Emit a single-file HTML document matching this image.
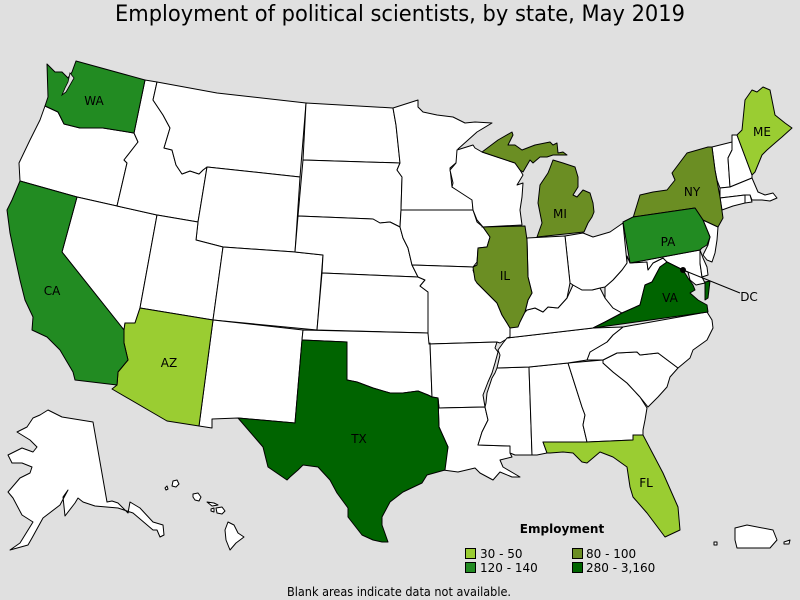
<!DOCTYPE html>
<html>
<head>
<meta charset="utf-8">
<style>
html,body{margin:0;padding:0;background:#e0e0e0;}
svg{display:block;}
text{font-family:"DejaVu Sans","Liberation Sans",sans-serif;fill:#000;}
</style>
</head>
<body>
<svg width="800" height="600" viewBox="0 0 800 600" xmlns="http://www.w3.org/2000/svg">
<rect x="0" y="0" width="800" height="600" fill="#e0e0e0"/>
<text x="400" y="21" font-size="22" text-anchor="middle" textLength="570" lengthAdjust="spacingAndGlyphs">Employment of political scientists, by state, May 2019</text>

<g stroke="#000" stroke-width="1" stroke-linejoin="round">
<!-- white states -->
<g fill="#ffffff">
<polygon points="45,106 58,112 64,124 80,128 103,128 134,133 138,142 124,160 127,163 117,206 77,197 20,181 19,163 30,140 40,120"/>
<polygon points="77,197 157,215 140,308 135,323 125,323 124,330 62,252"/>
<polygon points="145,80 157,82 153,100 163,115 170,128 164,148 172,150 176,165 182,174 190,171 199,174 203,170 207,167 198,222 157,215 117,206 127,163 124,160 138,142 134,133"/>
<polygon points="157,82 217,93 306,103 300,177 207,167 203,170 199,174 190,171 182,174 176,165 172,150 164,148 170,128 163,115 153,100"/>
<polygon points="207,167 300,177 295,252 223,247 196,240 198,222"/>
<polygon points="157,215 198,222 196,240 223,247 213,320 140,308"/>
<polygon points="223,247 295,252 323,255 317,330 213,320"/>
<polygon points="213,320 303,330 302,340 295,423 238,418 212,419 212,428 199,426"/>
<polygon points="306,103 393,108 396,125 400,163 303,160"/>
<polygon points="303,160 400,163 397,170 402,177 401,210 400,227 390,222 380,223 373,219 298,216"/>
<polygon points="298,216 373,219 380,223 390,222 400,227 403,238 408,248 412,265 418,277 322,273 323,255 295,252"/>
<polygon points="322,273 418,277 425,280 420,286 428,292 428,333 317,330"/>
<polygon points="303,330 428,333 430,343 432,397 428,395 418,391 403,393 390,393 373,388 357,382 347,380 347,342 302,340"/>
<polygon points="393,108 418,100 418,107 423,112 437,115 453,117 465,123 475,122 492,123 477,132 458,149 457,162 450,168 452,187 472,198 473,210 401,210 402,177 397,170 400,163 396,125"/>
<polygon points="401,210 473,210 477,222 483,227 490,237 487,247 478,248 477,262 473,267 412,265 408,248 403,238 400,227"/>
<polygon points="412,265 473,267 477,265 473,270 477,283 487,293 497,303 502,315 507,323 510,328 510,337 505,340 500,343 497,342 429,344 428,333 428,292 420,286 425,280 418,277"/>
<polygon points="429,344 497,342 495,348 498,352 495,363 492,373 488,382 483,395 485,407 439,408 438,398 432,397 430,343"/>
<polygon points="439,408 485,407 488,420 482,432 478,445 510,446 510,453 512,457 500,460 503,467 520,477 512,477 500,472 493,480 480,473 475,468 458,472 443,470 448,447 439,427 438,398"/>
<polygon points="497,368 529,367 532,455 515,455 510,453 510,446 478,445 482,432 488,420 485,407 486,403 487,393 492,378 495,373"/>
<polygon points="529,367 568,363 582,407 585,415 583,425 587,442 543,442 547,453 537,455 532,455"/>
<polygon points="568,363 603,360 603,363 613,372 627,383 640,397 647,408 645,420 643,430 643,435 633,435 633,440 587,442 583,425 585,415 582,407"/>
<polygon points="603,360 617,353 637,352 640,355 658,353 678,368 670,377 667,387 658,397 648,407 640,397 627,383 613,372 603,363"/>
<polygon points="623,327 707,312 712,320 713,328 707,340 693,350 690,358 678,368 658,353 640,355 637,352 617,353 603,360 587,360 590,352 607,342 613,335"/>
<polygon points="507,338 593,328 623,327 613,335 607,342 590,352 587,360 568,363 529,367 497,368 500,355 498,350 503,343"/>
<polygon points="510,328 527,310 535,308 543,312 548,307 558,308 567,298 573,285 582,290 592,290 600,288 605,298 613,308 622,313 605,322 593,328 507,338 510,337"/>
<polygon points="605,287 613,280 622,270 627,263 627,256 630,263 640,262 647,262 648,270 653,263 663,258 667,262 660,267 652,282 645,285 640,305 622,313 613,308 605,298"/>
<polygon points="565,236 583,233 593,237 610,232 623,223 627,263 622,270 613,280 605,287 600,288 592,290 582,290 573,285 570,283"/>
<polygon points="527,238 565,236 570,283 567,298 558,308 548,307 543,312 535,308 527,310 525,312 528,300 532,293 528,277 527,240"/>
<polygon points="457,150 473,145 475,148 482,152 497,157 515,163 520,170 523,175 517,185 523,183 522,197 520,210 522,225 483,227 477,220 473,210 472,200 452,187 453,183 450,170 456,163"/>
<polygon points="703,220 718,227 717,240 715,253 712,262 707,260 703,255 708,245 710,237"/>
<polygon points="630,263 700,250 700,263 702,277 705,283 696,285 690,280 688,272 683,270 667,262 663,258 653,263 648,270 647,262"/>
<polygon points="700,250 703,258 707,267 708,275 702,277 700,263"/>
<polygon points="712,147 732,142 732,150 728,158 730,187 720,188 717,180 715,170"/>
<polygon points="732,135 737,135 752,175 752,178 730,187 728,158 732,150"/>
<polygon points="720,188 730,187 752,178 755,185 758,192 765,195 773,193 777,198 770,201 762,200 752,200 750,195 745,195 720,198"/>
<polygon points="720,198 745,195 745,203 733,206 722,210"/>
<polygon points="745,195 750,195 752,202 745,203"/>
<!-- Alaska -->
<polygon points="48,410 62,417 93,422 107,502 112,501 118,503 128,513 130,502 140,508 153,522 163,525 164,535 160,537 157,530 153,530 133,513 118,508 95,506 83,502 78,498 75,503 65,516 63,497 68,490 60,505 43,518 32,538 28,545 10,550 20,543 33,522 22,515 13,498 8,492 20,478 30,473 32,467 22,463 12,463 8,455 22,448 33,452 37,447 30,440 17,432 27,427 33,418 40,415"/>
<!-- Hawaii -->
<polygon points="173,481 177,480 179,484 176,487 172,486"/>
<polygon points="165,488 167,486 168,489 166,490"/>
<polygon points="193,494 198,493 201,497 199,501 195,500 193,497"/>
<polygon points="207,502 214,503 218,505 212,506"/>
<polygon points="211,509 214,508 214,512 211,511"/>
<polygon points="216,508 222,507 225,511 222,514 217,513"/>
<polygon points="228,522 234,525 238,533 244,537 236,543 230,550 226,540 225,530"/>
<!-- Puerto Rico -->
<polygon points="735,528 747,525 773,530 777,540 770,548 737,548 735,540"/>
<polygon points="714,542 717,542 717,545 714,545"/>
<polygon points="784,542 790,540 789,544 784,544"/>
</g>

<!-- 30 - 50 -->
<g fill="#9acd32">
<polygon points="140,308 213,320 199,426 167,421 112,389 117,385 118,372 128,360 124,343 124,330 125,323 135,323"/>
<polygon points="752,90 757,92 763,87 770,90 775,115 785,123 792,128 782,137 775,143 767,150 762,155 755,172 752,175 737,135 742,130 745,100"/>
<polygon points="543,442 587,442 633,440 633,435 643,435 663,473 678,507 680,530 665,537 647,513 633,497 630,487 627,467 613,457 600,452 587,463 582,462 573,453 563,452 550,453 547,453"/>
</g>
<!-- 80 - 100 -->
<g fill="#6b8e23">
<polygon points="482,227 525,226 527,240 528,277 532,293 528,300 525,312 520,322 518,327 510,328 507,323 502,315 497,303 487,293 477,283 475,280 473,267 477,265 478,248 487,247 490,237 483,227"/>
<polygon points="482,152 498,140 512,132 513,135 508,145 515,145 522,150 535,145 550,142 553,145 557,143 558,153 563,152 567,155 553,155 547,157 540,157 533,163 530,160 523,172 520,170 515,163 497,157"/>
<polygon points="553,160 563,163 575,167 578,177 578,187 573,195 577,197 583,190 590,193 593,203 594,212 592,217 588,223 584,232 537,237 542,223 538,203 540,185 548,173 550,168"/>
<polygon points="633,218 640,195 653,192 667,190 675,180 672,173 687,153 708,147 712,147 715,170 720,197 723,218 718,227 703,220 695,208 633,217"/>
</g>
<!-- 120 - 140 -->
<g fill="#228b22">
<polygon points="47,64 55,72 62,72 68,78 72,72 76,61 145,80 134,133 103,128 80,128 64,124 58,112 45,106 48,97"/>
<polygon points="20,181 77,197 62,252 124,330 124,343 128,360 118,372 117,385 75,380 73,372 60,350 47,337 32,330 33,317 25,300 20,280 15,257 10,233 7,210 12,200"/>
<polygon points="623,222 633,217 695,208 703,220 710,237 707,245 702,248 700,250 630,263"/>
</g>
<!-- 280 - 3,160 -->
<g fill="#006400">
<polygon points="302,340 347,342 347,380 357,382 373,388 390,393 403,393 418,391 428,395 432,397 438,398 439,427 448,447 445,470 427,475 422,483 403,492 390,502 382,517 382,525 388,542 382,542 373,540 362,535 348,517 348,508 337,493 330,480 318,467 303,465 298,470 290,477 287,480 268,467 263,447 238,418 295,423"/>
<polygon points="593,328 605,322 622,313 640,305 645,285 652,282 660,267 667,262 683,270 688,278 693,285 695,290 690,293 698,300 707,305 708,312"/>
<polygon points="705,282 710,281 708,298 705,300"/>
</g>
</g>

<!-- Puget sound -->
<polygon points="70,73 74,78 70,85 66,92 62,95 65,88 68,82" fill="#e0e0e0" stroke="#000" stroke-width="0.8"/>

<!-- DC -->
<line x1="683" y1="270" x2="740" y2="293" stroke="#000" stroke-width="1"/>
<circle cx="683" cy="270" r="3" fill="#000"/>
<text x="749" y="301" font-size="12" text-anchor="middle">DC</text>

<!-- State labels -->
<g font-size="12" text-anchor="middle">
<text x="94" y="105">WA</text>
<text x="52" y="295">CA</text>
<text x="169" y="367">AZ</text>
<text x="359" y="443">TX</text>
<text x="505" y="280">IL</text>
<text x="560" y="218">MI</text>
<text x="692" y="196">NY</text>
<text x="668" y="246">PA</text>
<text x="670" y="302">VA</text>
<text x="762" y="136">ME</text>
<text x="646" y="487">FL</text>
</g>

<!-- Legend -->
<text x="562" y="533" font-size="12" font-weight="bold" text-anchor="middle">Employment</text>
<rect x="465.5" y="548.5" width="10" height="10" fill="#9acd32" stroke="#000" stroke-width="1"/>
<text x="480" y="558" font-size="12">30 - 50</text>
<rect x="465.5" y="562.5" width="10" height="10" fill="#228b22" stroke="#000" stroke-width="1"/>
<text x="480" y="572" font-size="12">120 - 140</text>
<rect x="572.5" y="548.5" width="10" height="10" fill="#6b8e23" stroke="#000" stroke-width="1"/>
<text x="586" y="558" font-size="12">80 - 100</text>
<rect x="572.5" y="562.5" width="10" height="10" fill="#006400" stroke="#000" stroke-width="1"/>
<text x="586" y="572" font-size="12">280 - 3,160</text>

<text x="399" y="596" font-size="12" text-anchor="middle" textLength="224" lengthAdjust="spacingAndGlyphs">Blank areas indicate data not available.</text>
</svg>
</body>
</html>
